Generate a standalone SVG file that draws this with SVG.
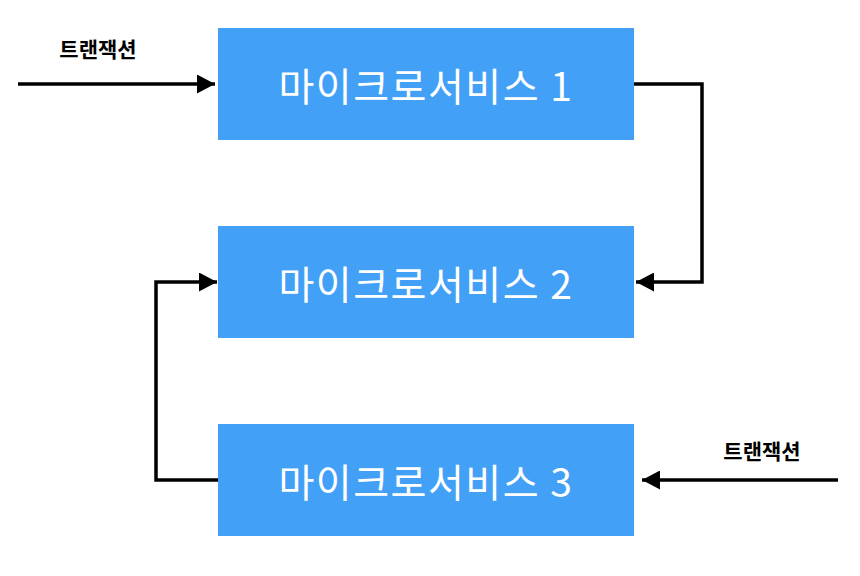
<svg xmlns="http://www.w3.org/2000/svg" width="860" height="576" viewBox="0 0 860 576">
<defs>
<style>
.box{fill:#42a1f6;}
.bt{fill:#ffffff;font-family:"Noto Sans CJK KR","Noto Sans",sans-serif;font-size:39px;letter-spacing:1.5px;text-anchor:middle;dominant-baseline:central;}
.lbl{fill:#000000;font-family:"Noto Sans CJK KR","Noto Sans",sans-serif;font-size:21px;font-weight:bold;text-anchor:middle;}
.ln{fill:none;stroke:#000000;stroke-width:3.5;}
</style>
<marker id="ah" markerWidth="18" markerHeight="19" refX="18" refY="9.5" orient="auto" markerUnits="userSpaceOnUse">
<path d="M0,0 L18,9.5 L0,19 Z" fill="#000000"/>
</marker>
</defs>
<rect width="860" height="576" fill="#ffffff"/>
<g id="ms1"><rect class="box" x="218" y="28" width="416" height="112"/><text class="bt" x="426" y="84">마이크로서비스 1</text></g>
<g id="ms2"><rect class="box" x="218" y="226" width="416" height="112"/><text class="bt" x="426" y="282">마이크로서비스 2</text></g>
<g id="ms3"><rect class="box" x="218" y="424" width="416" height="112"/><text class="bt" x="426" y="480">마이크로서비스 3</text></g>
<g id="labels">
<text class="lbl" x="98" y="57">트랜잭션</text>
<text class="lbl" x="762" y="459">트랜잭션</text>
</g>
<g id="connectors">
<path class="ln" d="M18,84 L215,84" marker-end="url(#ah)"/>
<path class="ln" d="M634,84 L702,84 L702,282 L636,282" marker-end="url(#ah)"/>
<path class="ln" d="M218,480 L156,480 L156,282 L217,282" marker-end="url(#ah)"/>
<path class="ln" d="M838,480 L642,480" marker-end="url(#ah)"/>
</g>
</svg>
